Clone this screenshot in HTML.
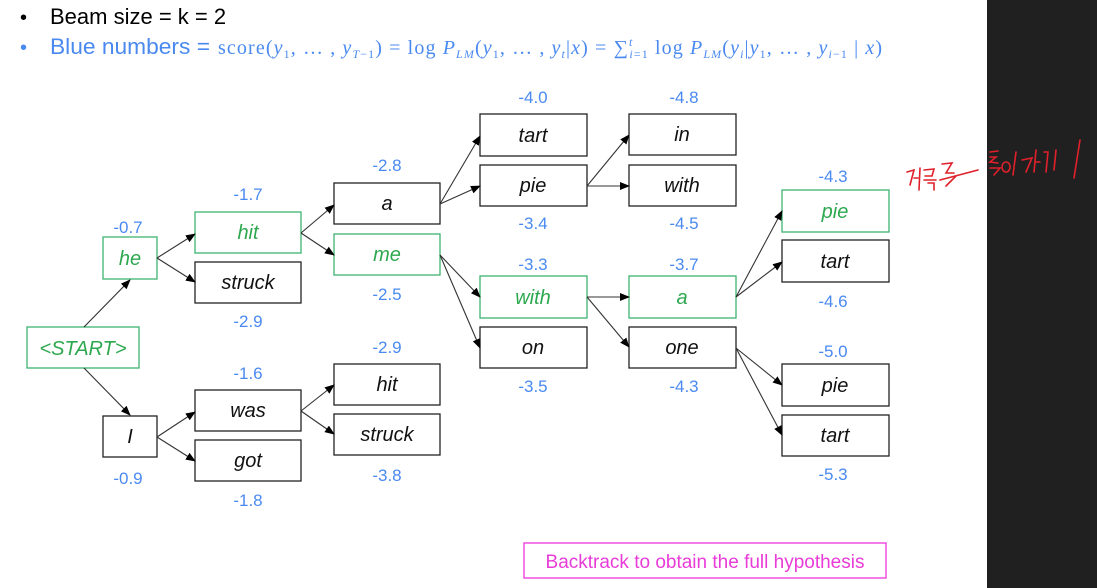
<!DOCTYPE html>
<html><head><meta charset="utf-8"><style>
html,body{margin:0;padding:0;background:#fff;}
body{width:1097px;height:588px;overflow:hidden;position:relative;font-family:"Liberation Sans",sans-serif;}
</style></head><body>
<svg width="1097" height="588" viewBox="0 0 1097 588" xmlns="http://www.w3.org/2000/svg" style="position:absolute;left:0;top:0">
<defs><marker id="ah" markerWidth="10" markerHeight="8" refX="9" refY="4" orient="auto" markerUnits="userSpaceOnUse"><path d="M0,0 L10,4 L0,8 Z" fill="#000"/></marker></defs>
<rect x="987" y="0" width="110" height="588" fill="#202020"/>
<!-- header -->
<text x="20" y="24" font-size="20" font-family="Liberation Sans,sans-serif">•</text>
<text x="50" y="24" font-size="22" font-family="Liberation Sans,sans-serif">Beam size = k = 2</text>
<text x="20" y="54" font-size="20" fill="#4a8af0">•</text>
<text x="50" y="54" font-size="22" fill="#4a8af0" textLength="160" lengthAdjust="spacingAndGlyphs">Blue numbers =</text>
<text x="218" y="54" font-size="20" fill="#4a8af0" font-family="Liberation Serif,serif" textLength="664" lengthAdjust="spacing">score(<tspan font-style="italic">y</tspan><tspan font-size="12" dy="4">1</tspan><tspan dy="-4">, … , </tspan><tspan font-style="italic">y</tspan><tspan font-size="12" dy="4" font-style="italic">T</tspan><tspan font-size="12">−1</tspan><tspan dy="-4">) = log </tspan><tspan font-style="italic">P</tspan><tspan font-size="12" dy="4" font-style="italic">LM</tspan><tspan dy="-4">(</tspan><tspan font-style="italic">y</tspan><tspan font-size="12" dy="4">1</tspan><tspan dy="-4">, … , </tspan><tspan font-style="italic">y</tspan><tspan font-size="12" dy="4" font-style="italic">t</tspan><tspan dy="-4">|</tspan><tspan font-style="italic">x</tspan>) =  ∑<tspan font-size="12" dy="-8" font-style="italic">t</tspan><tspan font-size="12" dx="-4" dy="12" font-style="italic">i</tspan><tspan font-size="12">=1</tspan><tspan dy="-4"> log </tspan><tspan font-style="italic">P</tspan><tspan font-size="12" dy="4" font-style="italic">LM</tspan><tspan dy="-4">(</tspan><tspan font-style="italic">y</tspan><tspan font-size="12" dy="4" font-style="italic">i</tspan><tspan dy="-4">|</tspan><tspan font-style="italic">y</tspan><tspan font-size="12" dy="4">1</tspan><tspan dy="-4">, … , </tspan><tspan font-style="italic">y</tspan><tspan font-size="12" dy="4" font-style="italic">i</tspan><tspan font-size="12">−1</tspan><tspan dy="-4"> | </tspan><tspan font-style="italic">x</tspan>)</text>

<g fill="none" stroke-width="1.3">
<g stroke="#3cb371">
<rect x="27" y="327" width="112" height="41"/>
<rect x="103" y="237" width="54" height="42"/>
<rect x="195" y="212" width="106" height="41"/>
<rect x="334" y="234" width="106" height="41"/>
<rect x="480" y="276" width="107" height="42"/>
<rect x="629" y="276" width="107" height="42"/>
<rect x="782" y="190" width="107" height="42"/>
</g>
<g stroke="#222">
<rect x="103" y="416" width="54" height="41"/>
<rect x="195" y="262" width="106" height="41"/>
<rect x="195" y="390" width="106" height="41"/>
<rect x="195" y="440" width="106" height="41"/>
<rect x="334" y="183" width="106" height="41"/>
<rect x="334" y="364" width="106" height="41"/>
<rect x="334" y="414" width="106" height="41"/>
<rect x="480" y="114" width="107" height="42"/>
<rect x="480" y="165" width="107" height="41"/>
<rect x="480" y="327" width="107" height="41"/>
<rect x="629" y="114" width="107" height="41"/>
<rect x="629" y="165" width="107" height="41"/>
<rect x="629" y="327" width="107" height="41"/>
<rect x="782" y="240" width="107" height="42"/>
<rect x="782" y="364" width="107" height="42"/>
<rect x="782" y="415" width="107" height="41"/>
</g>
</g>
<g stroke="#333" stroke-width="1.1" marker-end="url(#ah)">
<line x1="84" y1="327" x2="130" y2="280"/>
<line x1="84" y1="368" x2="130" y2="415"/>
<line x1="157" y1="258" x2="195" y2="234"/>
<line x1="157" y1="258" x2="195" y2="282"/>
<line x1="157" y1="437" x2="195" y2="412"/>
<line x1="157" y1="437" x2="195" y2="461"/>
<line x1="301" y1="233" x2="334" y2="205"/>
<line x1="301" y1="233" x2="334" y2="255"/>
<line x1="301" y1="411" x2="334" y2="385"/>
<line x1="301" y1="411" x2="334" y2="434"/>
<line x1="440" y1="204" x2="480" y2="136"/>
<line x1="440" y1="204" x2="480" y2="186"/>
<line x1="440" y1="255" x2="480" y2="297"/>
<line x1="440" y1="255" x2="480" y2="348"/>
<line x1="587" y1="186" x2="629" y2="135"/>
<line x1="587" y1="186" x2="629" y2="186"/>
<line x1="587" y1="297" x2="629" y2="297"/>
<line x1="587" y1="297" x2="629" y2="347"/>
<line x1="736" y1="297" x2="782" y2="211"/>
<line x1="736" y1="297" x2="782" y2="262"/>
<line x1="736" y1="348" x2="782" y2="385"/>
<line x1="736" y1="348" x2="782" y2="435"/>
</g>
<g font-size="20" font-style="italic" text-anchor="middle" font-family="Liberation Sans,sans-serif">
<g fill="#2ea84f">
<text x="83" y="355">&lt;START&gt;</text>
<text x="130" y="265">he</text>
<text x="248" y="239">hit</text>
<text x="387" y="261">me</text>
<text x="533" y="304">with</text>
<text x="682" y="304">a</text>
<text x="835" y="218">pie</text>
</g>
<g fill="#111">
<text x="130" y="443">I</text>
<text x="248" y="289">struck</text>
<text x="248" y="417">was</text>
<text x="248" y="467">got</text>
<text x="387" y="210">a</text>
<text x="387" y="391">hit</text>
<text x="387" y="441">struck</text>
<text x="533" y="142">tart</text>
<text x="533" y="192">pie</text>
<text x="533" y="354">on</text>
<text x="682" y="141">in</text>
<text x="682" y="192">with</text>
<text x="682" y="354">one</text>
<text x="835" y="268">tart</text>
<text x="835" y="392">pie</text>
<text x="835" y="442">tart</text>
</g>
</g>
<g font-size="17" fill="#4a8af0" text-anchor="middle" font-family="Liberation Sans,sans-serif">
<text x="128" y="233">-0.7</text>
<text x="128" y="484">-0.9</text>
<text x="248" y="200">-1.7</text>
<text x="248" y="327">-2.9</text>
<text x="248" y="379">-1.6</text>
<text x="248" y="506">-1.8</text>
<text x="387" y="171">-2.8</text>
<text x="387" y="300">-2.5</text>
<text x="387" y="353">-2.9</text>
<text x="387" y="481">-3.8</text>
<text x="533" y="103">-4.0</text>
<text x="533" y="229">-3.4</text>
<text x="533" y="270">-3.3</text>
<text x="533" y="392">-3.5</text>
<text x="684" y="103">-4.8</text>
<text x="684" y="229">-4.5</text>
<text x="684" y="270">-3.7</text>
<text x="684" y="392">-4.3</text>
<text x="833" y="182">-4.3</text>
<text x="833" y="307">-4.6</text>
<text x="833" y="357">-5.0</text>
<text x="833" y="480">-5.3</text>
</g>
<rect x="524" y="543" width="362" height="35" fill="none" stroke="#f050e0" stroke-width="1.5"/>
<text x="705" y="568" font-size="19" fill="#e83cd8" text-anchor="middle" font-family="Liberation Sans,sans-serif">Backtrack to obtain the full hypothesis</text>
<!-- handwriting -->
<g stroke="#e0202a" stroke-width="1.6" fill="none" stroke-linecap="round">
<path d="M907,172 L914,170 L910,185 M914,178 L918,178 M920,168 L919,190"/>
<path d="M924,170 L934,169 L932,176 L925,176 M924,180 L936,180 M928,183 L934,183 L934,190"/>
<path d="M942,164 L952,163 L946,173 L954,173 M940,180 L978,170 M956,176 L946,186"/>
<path d="M990,152 L998,151 M990,157 L996,157 L990,162 L998,163 M990,168 L1000,168 L994,175"/>
<path d="M1006,162 a4,5 0 1,0 0.1,0 M1016,152 L1013,175"/>
<path d="M1022,160 L1032,158 L1026,172 M1036,150 L1034,172 M1036,162 L1040,162"/>
<path d="M1044,152 L1048,152 L1046,172 M1080,140 L1074,178 M1056,150 L1054,170"/>
</g>
</svg>
</body></html>
